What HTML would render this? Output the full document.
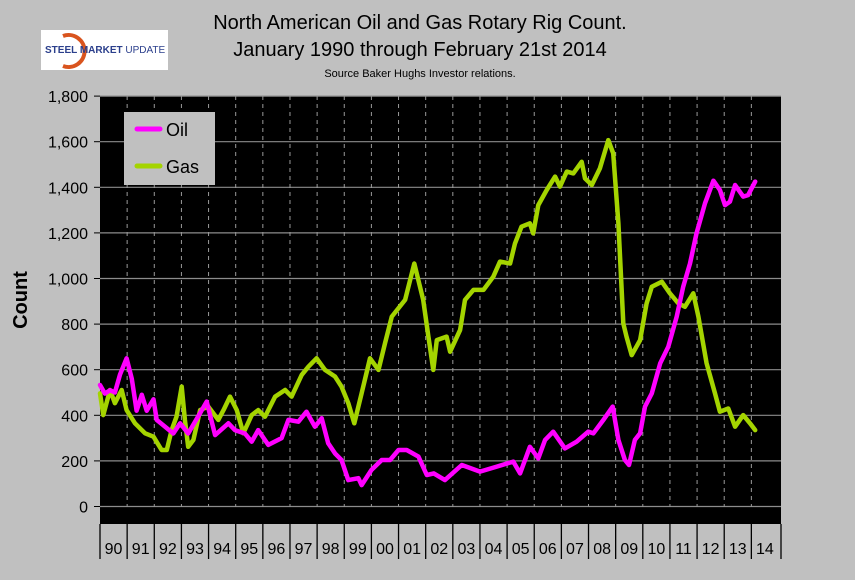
<!DOCTYPE html>
<html><head><meta charset="utf-8">
<style>
html,body{margin:0;padding:0;background:#c0c0c0;}
svg{display:block;font-family:"Liberation Sans",Arial,sans-serif;}
</style></head>
<body>
<svg id="chart" width="855" height="580" viewBox="0 0 855 580" xmlns="http://www.w3.org/2000/svg">
<rect x="0" y="0" width="855" height="580" fill="#c0c0c0"/>
<g>
<rect x="41" y="30" width="127" height="40" fill="#fff"/>
<path d="M63 36 A16 16 0 1 1 63 66" fill="none" stroke="#d9541e" stroke-width="4"/>
<text x="45" y="53" font-size="10" font-weight="bold" fill="#2b3f8c">STEEL MARKET <tspan font-weight="normal">UPDATE</tspan></text>
</g>
<text x="420" y="29" font-size="20" text-anchor="middle" fill="#000">North American Oil and Gas Rotary Rig Count.</text>
<text x="420" y="56" font-size="20" text-anchor="middle" fill="#000">January 1990 through February 21st 2014</text>
<text x="420" y="77" font-size="11" text-anchor="middle" fill="#000">Source Baker Hughs Investor relations.</text>
<rect x="100" y="96" width="681" height="428" fill="#000"/>
<g id="grid"></g>
<g id="axes"></g>
<g id="series"></g>
<text transform="translate(27,300) rotate(-90)" font-size="20" font-weight="bold" text-anchor="middle" fill="#000">Count</text>
<g>
<rect x="124" y="112" width="91" height="73" fill="#c0c0c0"/>
<line x1="137" y1="129" x2="160" y2="129" stroke="#ff00ff" stroke-width="5" stroke-linecap="round"/>
<text x="166" y="136" font-size="18" fill="#000">Oil</text>
<line x1="137" y1="166" x2="160" y2="166" stroke="#a4d400" stroke-width="5" stroke-linecap="round"/>
<text x="166" y="173" font-size="18" fill="#000">Gas</text>
</g>
</svg>
<script>
const yearLabels = ["90","91","92","93","94","95","96","97","98","99","00","01","02","03","04","05","06","07","08","09","10","11","12","13","14"];
const yTicks = [0,200,400,600,800,1000,1200,1400,1600,1800];
const oilT = [0,0.18,0.37,0.55,0.74,0.98,1.17,1.35,1.54,1.72,1.97,2.09,2.4,2.7,2.95,3.25,3.75,3.93,4.24,4.73,4.97,5.34,5.59,5.83,6.2,6.69,6.94,7.31,7.61,7.92,8.17,8.41,8.66,8.9,9.15,9.52,9.64,10.0,10.38,10.69,11.0,11.3,11.73,12.04,12.3,12.71,13.33,14.0,14.62,15.23,15.48,15.84,16.15,16.4,16.7,17.13,17.56,17.99,18.18,18.55,18.89,19.1,19.34,19.49,19.71,19.9,20.08,20.33,20.64,20.94,21.25,21.49,21.74,21.98,22.29,22.6,22.84,23.03,23.21,23.4,23.7,23.88,24.14];
const oilV = [533,495,510,500,580,650,560,420,490,420,470,380,350,320,365,320,423,460,313,365,335,320,284,335,270,300,380,372,416,350,387,277,233,204,116,124,94,160,204,204,248,248,219,138,145,116,182,153,175,197,145,262,211,292,328,255,284,328,321,380,438,292,204,182,292,321,438,496,628,701,833,964,1066,1198,1330,1429,1388,1322,1337,1410,1359,1366,1425];
const gasT = [0,0.12,0.37,0.55,0.8,0.98,1.29,1.66,1.97,2.27,2.46,2.64,2.82,3.01,3.13,3.25,3.44,3.69,3.99,4.36,4.55,4.79,5.04,5.28,5.59,5.83,6.08,6.45,6.82,7.06,7.43,7.68,7.98,8.29,8.66,8.9,9.15,9.37,9.64,9.95,10.26,10.5,10.75,11.24,11.58,11.91,12.1,12.28,12.41,12.77,12.9,13.27,13.45,13.76,14.13,14.49,14.74,15.11,15.29,15.53,15.84,15.96,16.15,16.46,16.77,16.95,17.2,17.44,17.75,17.87,18.12,18.42,18.73,18.91,19.1,19.28,19.4,19.59,19.9,20.14,20.33,20.7,21.0,21.31,21.55,21.86,22.05,22.35,22.66,22.84,23.15,23.4,23.7,23.95,24.14];
const gasV = [496,401,511,453,511,423,365,321,306,248,248,335,394,526,380,262,292,423,438,380,423,482,423,321,401,423,394,482,511,482,577,613,650,599,570,526,453,365,496,650,599,716,833,906,1066,906,745,599,730,745,679,774,906,950,950,1008,1074,1066,1154,1227,1242,1198,1322,1388,1447,1403,1469,1461,1512,1439,1410,1483,1607,1549,1242,803,745,664,730,891,964,986,935,891,876,935,833,628,496,416,430,350,401,365,335];
const NS='http://www.w3.org/2000/svg';
const X0=100, YW=27.14, Y0=506.5, VS=45.6/200;
function xs(t){return X0+t*YW;}
function ys(v){return Y0-v*VS;}
function mk(tag,attrs,parent){const e=document.createElementNS(NS,tag);for(const k in attrs)e.setAttribute(k,attrs[k]);parent.appendChild(e);return e;}
const grid=document.getElementById('grid'), axes=document.getElementById('axes'), series=document.getElementById('series');
yTicks.forEach(v=>{
  const l=mk('line',{x1:100,x2:781,y1:ys(v),y2:ys(v),stroke:'#8c8c8c','stroke-width':1.2},grid);
  
  
  const tk=mk('line',{x1:94,x2:100,y1:ys(v),y2:ys(v),stroke:'#000','stroke-width':1},axes);
  
  
  const tx=mk('text',{x:88,y:ys(v)+6,'font-size':16,'text-anchor':'end',fill:'#000'},axes);
  tx.textContent=v.toLocaleString('en-US');
  
  
});
yearLabels.forEach((lab,i)=>{
  if(i>0){
    const d=mk('line',{x1:xs(i),x2:xs(i),y1:96,y2:Y0,stroke:'#9a9a9a','stroke-width':1,'stroke-dasharray':'4,4'},grid);
    
    
  }
  const s=mk('line',{x1:xs(i),x2:xs(i),y1:524,y2:559,stroke:'#000','stroke-width':1.3},axes);
  
  
  const tx=mk('text',{x:xs(i+0.5),y:554,'font-size':16,'text-anchor':'middle',fill:'#000'},axes);
  tx.textContent=lab;
  
  
});
const sEnd=mk('line',{x1:781,x2:781,y1:524,y2:559,stroke:'#000','stroke-width':1.3},axes);


function path(T,V,color,name){
  const d=T.map((t,i)=>(i?'L':'M')+xs(t).toFixed(1)+' '+ys(V[i]).toFixed(1)).join(' ');
  const p=mk('path',{d:d,fill:'none',stroke:color,'stroke-width':4.5,'stroke-linejoin':'round','stroke-linecap':'round'},series);
  
  
}
path(gasT,gasV,'#a4d400','gas-line');
path(oilT,oilV,'#ff00ff','oil-line');
</script>
</body></html>
